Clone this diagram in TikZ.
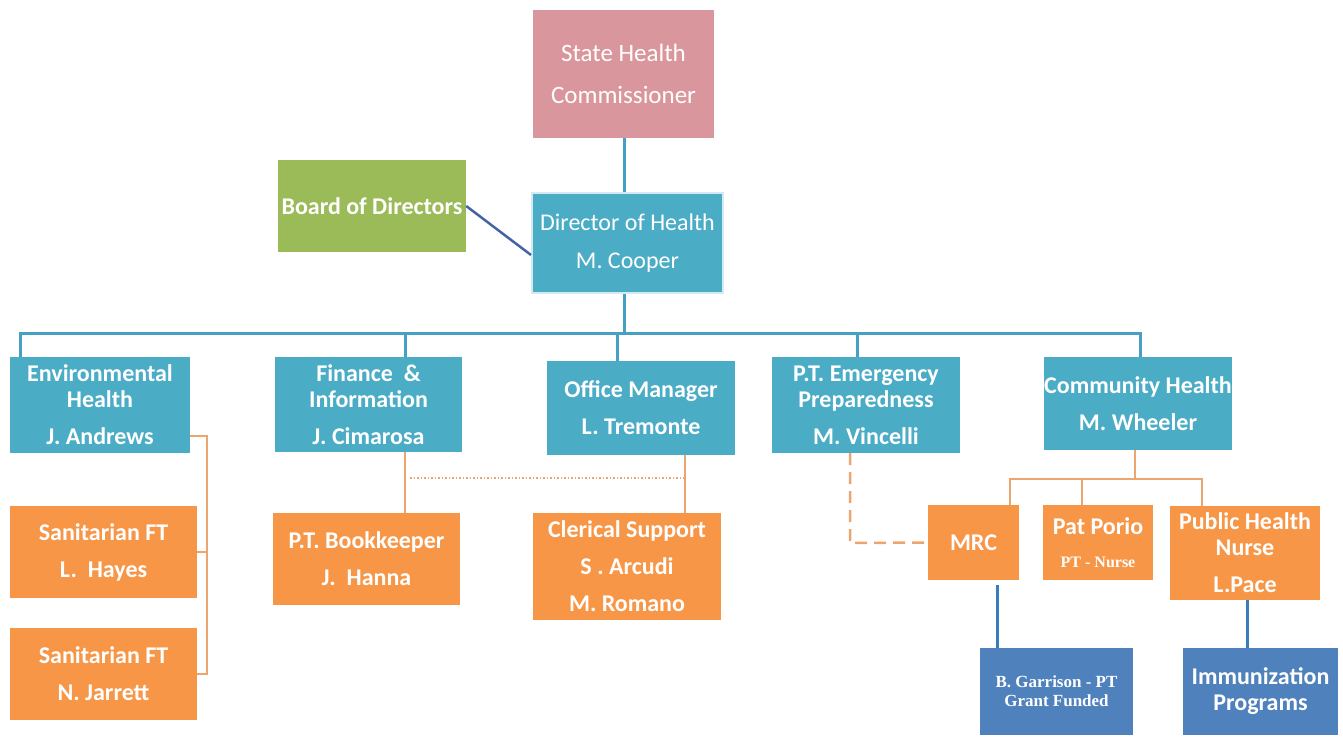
\documentclass[tikz,border=0pt]{standalone}
\usepackage{fontspec}
\setmainfont{Carlito}
\newfontfamily\tnr{Liberation Serif}
\definecolor{cblue}{RGB}{75,172,198}
\definecolor{corange}{RGB}{247,150,70}
\definecolor{cpink}{RGB}{217,150,156}
\definecolor{cgreen}{RGB}{155,187,89}
\definecolor{cdblue}{RGB}{79,129,189}
\definecolor{lorange}{RGB}{236,165,110}
\definecolor{lblue}{RGB}{70,160,195}
\definecolor{bline}{RGB}{70,100,165}
\definecolor{gline}{RGB}{55,125,190}
\tikzset{
  box/.style={rectangle, inner sep=0pt, align=center, text=white,
    font=\fontsize{24}{37}\selectfont\bfseries},
  bbox/.style={box, fill=cblue},
  obox/.style={box, fill=corange},
  dbox/.style={box, fill=cdblue},
  bcon/.style={draw=lblue, line width=3pt},
  ocon/.style={draw=lorange, line width=2.5pt},
}
\begin{document}
\begin{tikzpicture}[x=1pt,y=-1pt]
\useasboundingbox (0,0) rectangle (1343,737);
% top
\node[box, fill=cpink, minimum width=181pt, minimum height=128pt, font=\fontsize{25}{42}\selectfont] (comm) at (623.5,74) {State Health\\Commissioner};
\node[box, fill=cgreen, minimum width=188pt, minimum height=92pt] (board) at (372,206) {Board of Directors};
\node[bbox, draw=cblue!25, line width=2pt, minimum width=191pt, minimum height=100pt, font=\fontsize{24}{38}\selectfont] (dir) at (627.5,243) {Director of Health\\M. Cooper};
% second level
\node[bbox, minimum width=180pt, minimum height=96pt] (env) at (100,405) {Environmental\\[-11pt]Health\\J. Andrews};
\node[bbox, minimum width=187pt, minimum height=95pt] (fin) at (368.5,404.5) {Finance \ \&\\[-11pt]Information\\J. Cimarosa};
\node[bbox, minimum width=188pt, minimum height=94pt] (off) at (641,408) {Office Manager\\L. Tremonte};
\node[bbox, minimum width=188pt, minimum height=96pt] (emer) at (866,405) {P.T. Emergency\\[-11pt]Preparedness\\M. Vincelli};
\node[bbox, minimum width=188pt, minimum height=93pt] (commh) at (1138,403.5) {Community Health\\M. Wheeler};
% orange
\node[obox, minimum width=187pt, minimum height=92pt] (hayes) at (103.5,552) {Sanitarian FT\\L.\ \ Hayes};
\node[obox, minimum width=187pt, minimum height=92pt] (jarrett) at (103.5,674) {Sanitarian FT\\N. Jarrett};
\node[obox, minimum width=187pt, minimum height=92pt] (hanna) at (366.5,559) {P.T. Bookkeeper\\J.\ \ Hanna};
\node[obox, minimum width=188pt, minimum height=107pt] (cler) at (627,566.5) {Clerical Support\\S . Arcudi\\M. Romano};
\node[obox, minimum width=91pt, minimum height=75pt] (mrc) at (973.5,542.5) {MRC};
\node[obox, minimum width=110pt, minimum height=75pt] (pat) at (1098,542.5) {Pat Porio\\[-4pt]{\tnr\fontsize{16}{18}\selectfont\bfseries PT - Nurse}};
\node[obox, minimum width=150pt, minimum height=94pt] (phn) at (1245,553) {Public Health\\[-11pt]Nurse\\L.Pace};
% dark blue
\node[dbox, minimum width=153pt, minimum height=87pt, font=\tnr\fontsize{17}{19}\selectfont\bfseries] (garr) at (1056.5,691.5) {B. Garrison - PT\\Grant Funded};
\node[dbox, minimum width=155pt, minimum height=87pt, font=\fontsize{24}{26}\selectfont\bfseries] (imm) at (1260.5,691.5) {Immunization\\Programs};
% connectors top
\coordinate (cx) at (624,0);
\draw[bcon] (cx |- comm.south) -- (cx |- dir.north);
\draw[draw=bline, line width=2.5pt] (board.east) -- ([yshift=-12pt]dir.west);
\coordinate (busL) at (20,333);
\coordinate (busR) at (1140,333);
\draw[bcon] (cx |- dir.south) -- (cx |- busL);
\draw[bcon, line cap=rect] (busL) -- (busR);
\draw[bcon] (busL) -- (busL |- env.north);
\draw[bcon] (busR) -- (busR |- commh.north);
\coordinate (dfin) at (405,333);
\coordinate (doff) at (617,333);
\coordinate (demer) at (857,333);
\draw[bcon] (dfin) -- (dfin |- fin.north);
\draw[bcon] (doff) -- (doff |- off.north);
\draw[bcon] (demer) -- (demer |- emer.north);
% environmental
\coordinate (ev) at (207,436);
\draw[ocon] (env.east |- ev) -- (ev) -- (ev |- jarrett.center) -- (jarrett.east |- jarrett.center);
\draw[ocon] (ev |- hayes.center) -- (hayes.east |- hayes.center);
% finance / office
\coordinate (fx) at (405,0);
\coordinate (ox) at (685,0);
\draw[ocon] (fx |- fin.south) -- (fx |- hanna.north);
\draw[ocon] (ox |- off.south) -- (ox |- cler.north);
\coordinate (dot1) at (410,478);
\draw[lorange, line width=1.5pt, dotted] (dot1) -- (dot1 -| ox);
% emergency dashed
\coordinate (ex) at (850,543);
\draw[lorange, line width=2.5pt, dash pattern=on 12pt off 7pt] (ex |- emer.south) -- (ex) -- (mrc.west);
% community
\coordinate (cbus) at (1135,479);
\coordinate (cm) at (1010,479);
\coordinate (cp) at (1082,479);
\coordinate (cn) at (1202,479);
\draw[ocon] (cbus |- commh.south) -- (cbus);
\draw[ocon] (cm |- mrc.north) -- (cm) -- (cn) -- (cn |- phn.north);
\draw[ocon] (cp) -- (cp |- pat.north);
% bottom blue
\coordinate (gx) at (997,0);
\coordinate (ix) at (1247,0);
\draw[draw=gline, line width=3pt] (gx |- mrc.south) ++(0,5) -- (gx |- garr.north);
\draw[draw=gline, line width=3pt] (ix |- phn.south) -- (ix |- imm.north);
\end{tikzpicture}
\end{document}
